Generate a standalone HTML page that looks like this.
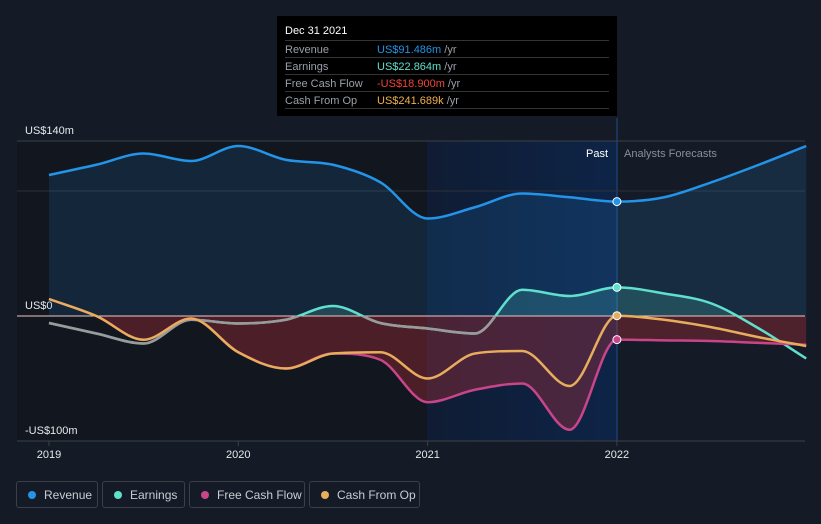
<!DOCTYPE html>
<html><head><meta charset="utf-8"><style>
body{margin:0;background:#151b26;font-family:"Liberation Sans",sans-serif;}
svg{display:block}
.leg{position:absolute;top:481px;height:27px;border:1px solid #3a3f48;border-radius:3px;color:#c9ccd1;font-size:12px;line-height:26px;box-sizing:border-box;padding-left:27px;white-space:nowrap}
.leg i{position:absolute;left:11px;top:9px;width:8px;height:8px;border-radius:50%}
</style></head><body>
<div style="position:relative;width:821px;height:524px;overflow:hidden">
<svg id="c" width="821" height="524">
<defs>
<linearGradient id="hl" x1="0" x2="1" y1="0" y2="0"><stop offset="0" stop-color="#0f1c33"/><stop offset="1" stop-color="#0e2447"/></linearGradient>
<clipPath id="above"><rect x="0" y="0" width="821" height="316"/></clipPath>
<clipPath id="below"><rect x="0" y="316" width="821" height="200"/></clipPath>
<clipPath id="pastbelow"><rect x="0" y="316" width="617" height="200"/></clipPath>
</defs>
<rect x="17" y="141" width="410" height="300" fill="#12161e"/>
<rect x="427" y="141" width="190" height="300" fill="url(#hl)"/>
<line x1="617" y1="118" x2="617" y2="441" stroke="#1f4d8c" stroke-width="1"/>
<line x1="17" y1="141" x2="805" y2="141" stroke="#3b414b"/>
<line x1="17" y1="191" x2="805" y2="191" stroke="#2b313b"/>
<line x1="17" y1="441" x2="805" y2="441" stroke="#3b414b"/>
<text x="25" y="134" fill="#e6e8eb" font-size="11">US$140m</text>
<text x="25" y="309" fill="#e6e8eb" font-size="11">US$0</text>
<text x="25" y="434" fill="#e6e8eb" font-size="11">-US$100m</text>
<text x="608" y="157" fill="#fff" font-size="11" text-anchor="end">Past</text>
<text x="624" y="157" fill="#8a8f97" font-size="11">Analysts Forecasts</text>
<g id="marks"></g>
<g id="xt"></g>
</svg>
<div style="position:absolute;left:277px;top:16px;width:340px;height:100px;background:#000">
<div style="position:absolute;left:8px;top:9px;color:#fff;font-size:11px">Dec 31 2021</div>
<div style="position:absolute;left:8px;right:8px;top:24px;border-top:1px solid #333"></div>
<div style="position:absolute;left:8px;top:26px;font-size:11px;line-height:17px;color:#9aa0a8">Revenue<br>Earnings<br>Free Cash Flow<br>Cash From Op</div>
<div style="position:absolute;left:100px;top:26px;font-size:11px;line-height:17px;color:#9aa0a8"><span style="color:#2394e8">US$91.486m</span> /yr<br><span style="color:#5fe0cd">US$22.864m</span> /yr<br><span style="color:#f0453a">-US$18.900m</span> /yr<br><span style="color:#f0b04e">US$241.689k</span> /yr</div>
<div style="position:absolute;left:8px;right:8px;top:41px;border-top:1px solid #333"></div>
<div style="position:absolute;left:8px;right:8px;top:58px;border-top:1px solid #333"></div>
<div style="position:absolute;left:8px;right:8px;top:75px;border-top:1px solid #333"></div>
<div style="position:absolute;left:8px;right:8px;top:92px;border-top:1px solid #333"></div>
</div>
<div class="leg" style="left:16px;width:82px"><i style="background:#2394e8"></i>Revenue</div>
<div class="leg" style="left:102px;width:83px"><i style="background:#5fe0cd"></i>Earnings</div>
<div class="leg" style="left:189px;width:116px"><i style="background:#c8458a"></i>Free Cash Flow</div>
<div class="leg" style="left:309px;width:111px"><i style="background:#e8ad5c"></i>Cash From Op</div>
</div>
<script>
const years=[2019,2019.25,2019.5,2019.75,2020,2020.25,2020.5,2020.75,2021,2021.25,2021.5,2021.75,2022,2022.25,2022.5,2022.75,2023];
const revenue=[112.8,121,130,124,136,125,121,107,78,87,98,95,91.5,95,107,121,136];
const earnings=[-5.6,-14,-22,-3,-6,-3,8,-5.6,-10,-14,21,16,22.9,18,10,-10,-34];
const fcf=[13.6,0,-19,-2,-29,-42,-30,-35,-69,-59,-54,-91,-18.9,-19.5,-20,-21.5,-23];
const cfo=[13.6,0,-19,-2,-29,-42,-30,-29,-50,-30,-28,-56,0.24,-3,-9,-17,-24];
const xTicks=[2019,2020,2021,2022];
const X=v=>49+(v-2019)*189.3, Y=v=>316-v*1.25;
const NS="http://www.w3.org/2000/svg";
function pts(a){return years.map((y,i)=>[X(y),Y(a[i])]);}
function path(p){
 const n=p.length,d=[],m=[];
 for(let i=0;i<n-1;i++)d.push((p[i+1][1]-p[i][1])/(p[i+1][0]-p[i][0]));
 for(let i=0;i<n;i++){
  if(i==0)m.push(d[0]);else if(i==n-1)m.push(d[n-2]);
  else m.push(d[i-1]*d[i]<=0?0:(d[i-1]+d[i])/2);
 }
 for(let i=0;i<n-1;i++){if(d[i]==0){m[i]=0;m[i+1]=0;continue;}const a=m[i]/d[i],b=m[i+1]/d[i],s=a*a+b*b;if(s>9){const t=3/Math.sqrt(s);m[i]=t*a*d[i];m[i+1]=t*b*d[i];}}
 let s="M"+p[0][0]+","+p[0][1];
 for(let i=0;i<n-1;i++){const h=(p[i+1][0]-p[i][0])/3;s+=" C"+(p[i][0]+h)+","+(p[i][1]+m[i]*h)+" "+(p[i+1][0]-h)+","+(p[i+1][1]-m[i+1]*h)+" "+p[i+1][0]+","+p[i+1][1];}
 return s;
}
const g=document.getElementById("marks");
function add(tag,at){const e=document.createElementNS(NS,tag);for(const k in at)e.setAttribute(k,at[k]);g.appendChild(e);return e;}
const z=Y(0),x0=X(years[0]),x1=X(years[years.length-1]);
function area(a){return path(pts(a))+" L"+x1+","+z+" L"+x0+","+z+"Z";}
let e;
e=add("path",{d:area(revenue),fill:"rgba(35,148,232,0.14)"});


e=add("path",{d:area(earnings),fill:"rgba(95,224,205,0.18)","clip-path":"url(#above)"});


e=add("path",{d:area(fcf),fill:"rgba(200,50,60,0.32)","clip-path":"url(#below)"});


e=add("line",{x1:17,x2:805,y1:z,y2:z,stroke:"#f3c4c4","stroke-width":1});


const series=[["revenue",revenue,"#2394e8"],["earnings",earnings,"#5fe0cd"],["free-cash-flow",fcf,"#c8458a"],["cash-from-op",cfo,"#e8ad5c"]];
const ti=years.indexOf(2022);
series.forEach(s=>{
 e=add("path",{d:path(pts(s[1])),fill:"none",stroke:s[2],"stroke-width":2.5});
 
 
 if(s[0]=="earnings"){
  e=add("path",{d:path(pts(s[1])),fill:"none",stroke:"#9a9a9a","stroke-width":2.6,"clip-path":"url(#pastbelow)"});
  
  
 }
});
series.forEach(s=>{
 e=add("circle",{cx:X(years[ti]),cy:Y(s[1][ti]),r:4,fill:s[2],stroke:"#fff","stroke-width":1});
 
 
});
const xt=document.getElementById("xt");
xTicks.forEach(t=>{
 const l=document.createElementNS(NS,"line");
 l.setAttribute("x1",X(t));l.setAttribute("x2",X(t));l.setAttribute("y1",441);l.setAttribute("y2",446);l.setAttribute("stroke","#3b414b");
 
 
 xt.appendChild(l);
 const tx=document.createElementNS(NS,"text");
 tx.setAttribute("x",X(t));tx.setAttribute("y",458);tx.setAttribute("fill","#e6e8eb");tx.setAttribute("font-size","11");tx.setAttribute("text-anchor","middle");
 tx.textContent=t;
 
 
 xt.appendChild(tx);
});
</script>
</body></html>
